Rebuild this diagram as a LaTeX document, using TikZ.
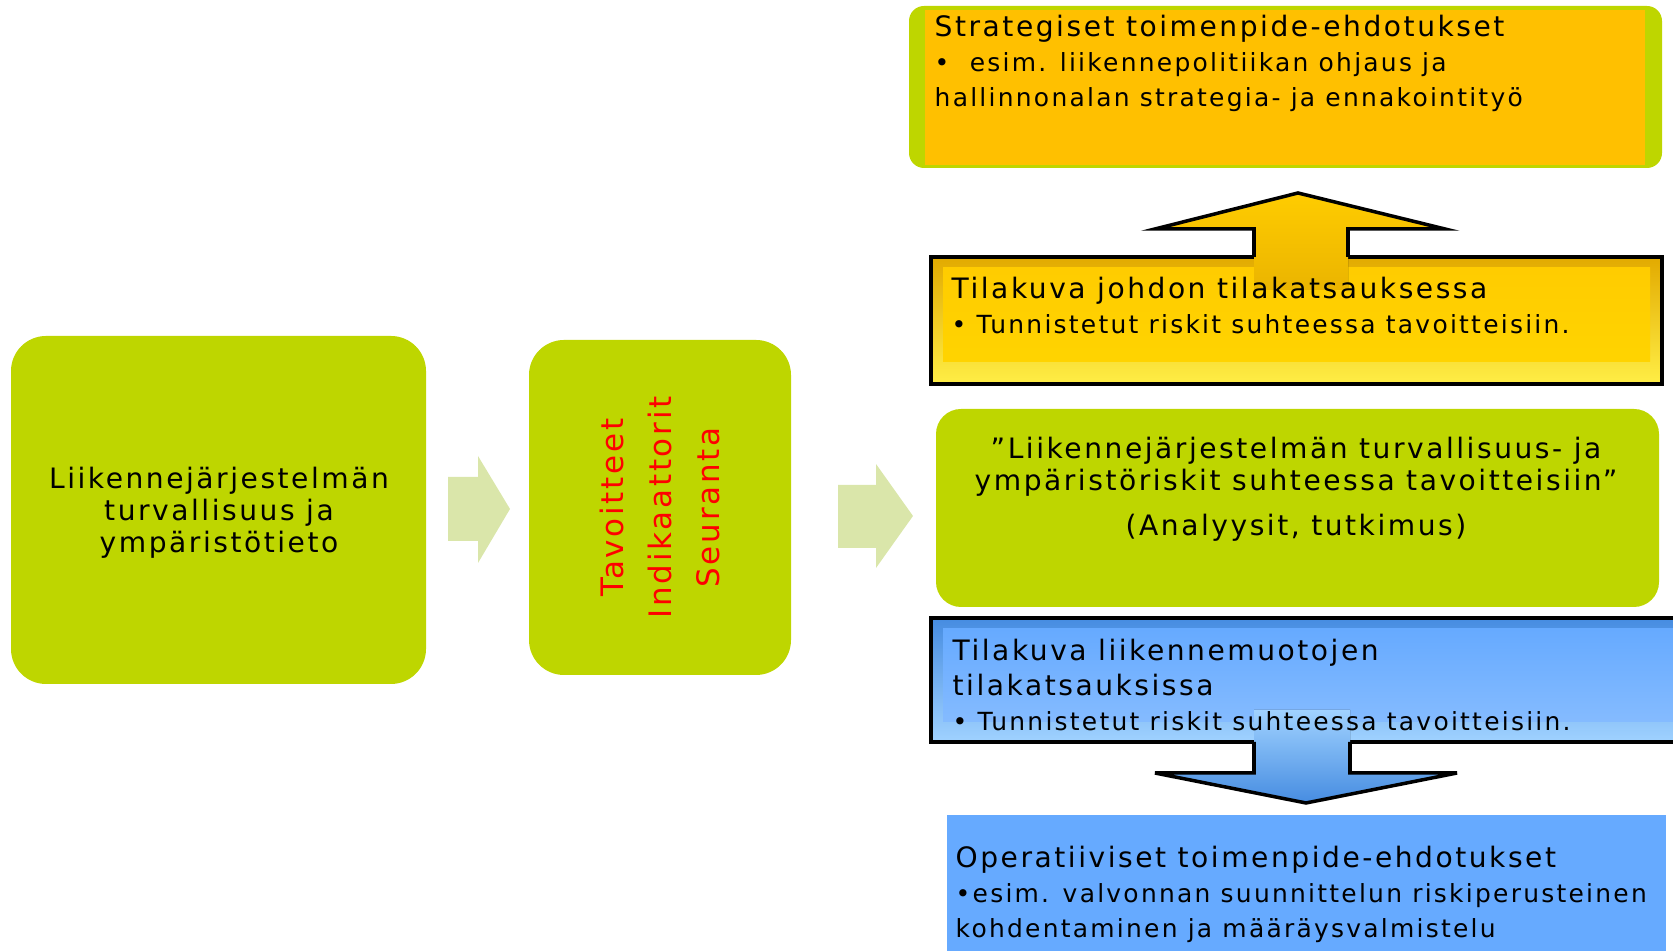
\documentclass[tikz,border=0pt]{standalone}
\usepackage{fontspec}
\setmainfont[LetterSpace=9]{DejaVu Sans}
\usetikzlibrary{positioning}

\definecolor{riskgreen}{RGB}{190,214,0}
\definecolor{palegreen}{RGB}{218,230,170}
\definecolor{strategyorange}{RGB}{255,192,0}
\definecolor{gold}{RGB}{255,204,0}
\definecolor{golddark}{RGB}{226,170,0}
\definecolor{goldlight}{RGB}{255,238,70}
\definecolor{skyblue}{RGB}{102,170,255}
\definecolor{bluedark}{RGB}{70,140,225}
\definecolor{bluelight}{RGB}{160,210,255}

\newcommand{\bulletsize}{\fontsize{7.1}{10}\selectfont}

\tikzset{
  greenbox/.style={fill=riskgreen, inner sep=0pt, rounded corners=0.35cm},
  boxtext/.style={anchor=north west, align=left, inner sep=0pt,
    font=\fontsize{8}{10}\selectfont},
  blockline/.style={draw=black, line width=1pt, line join=miter},
}

\begin{document}
\begin{tikzpicture}
	\useasboundingbox (0,0) rectangle (16.73,-9.51);
	
	% left
	\node[greenbox, minimum width=4.15cm, minimum height=3.48cm] (tieto) at (2.185,-5.10) {};
	\node[align=center, inner sep=0pt, font=\fontsize{8}{9.1}\selectfont] (tietoteksti)
	  at (2.19,-5.13) {Liikennejärjestelmän\\turvallisuus ja\\ympäristötieto};
	\fill[palegreen] (4.48,-4.77) -- (4.78,-4.77) -- (4.78,-4.56) -- (5.10,-5.09)
	  -- (4.78,-5.63) -- (4.78,-5.41) -- (4.48,-5.41) -- cycle;
	
	\node[greenbox, rotate=90, minimum width=3.35cm, minimum height=2.62cm,
	  text=red, align=center, font=\fontsize{8.8}{13.7}\selectfont] (seuranta)
	  at (6.60,-5.075) {Tavoitteet\\Indikaattorit\\Seuranta};
	\fill[palegreen] (8.38,-4.85) -- (8.76,-4.85) -- (8.76,-4.64) -- (9.13,-5.16)
	  -- (8.76,-5.68) -- (8.76,-5.48) -- (8.38,-5.48) -- cycle;
	
	% analysis
	\node[greenbox, rounded corners=0.25cm, minimum width=7.23cm, minimum height=1.98cm]
	  (analyysi) at (12.975,-5.08) {};
	\node[align=center, anchor=north, inner sep=0pt, font=\fontsize{8}{9.2}\selectfont]
	  (analyysiteksti) at (12.96,-4.36)
	  {”Liikennejärjestelmän turvallisuus- ja\\ympäristöriskit suhteessa tavoitteisiin”\\[3.5pt](Analyysit, tutkimus)};
	
	% strategic
	\fill[riskgreen, rounded corners=0.15cm] (9.09,-0.06) rectangle (16.62,-1.68);
	\fill[strategyorange] (9.25,-0.10) rectangle (16.45,-1.65);
	\node[boxtext] (strategia) at (9.34,-0.14)
	  {Strategiset toimenpide-ehdotukset\\\bulletsize\textbullet\ \ esim. liikennepolitiikan ohjaus ja\\\bulletsize hallinnonalan strategia- ja ennakointityö};
	
	% management review
	\fill[top color=golddark, bottom color=goldlight] (9.31,-2.57) rectangle (16.62,-3.84);
	\fill[top color=gold, bottom color=gold!85!yellow] (9.43,-2.68) rectangle (16.50,-3.62);
	\draw[blockline] (9.31,-2.57) rectangle (16.62,-3.84);
	\fill[top color=gold, bottom color=golddark!70!gold] (12.54,-2.90) -- (12.54,-2.29) -- (11.55,-2.29)
	  -- (12.98,-1.93) -- (14.45,-2.29) -- (13.48,-2.29) -- (13.48,-2.90) -- cycle;
	\draw[blockline] (12.54,-2.57) -- (12.54,-2.29) -- (11.55,-2.29) -- (12.98,-1.93)
	  -- (14.45,-2.29) -- (13.48,-2.29) -- (13.48,-2.57);
	\node[boxtext] (johto) at (9.51,-2.76)
	  {Tilakuva johdon tilakatsauksessa\\\bulletsize\textbullet\ Tunnistetut riskit suhteessa tavoitteisiin.};
	
	% transport modes
	\fill[top color=bluedark, bottom color=bluelight] (9.31,-6.18) rectangle (16.80,-7.42);
	\fill[top color=skyblue, bottom color=skyblue!80!white] (9.43,-6.29) rectangle (16.80,-7.22);
	\draw[blockline] (16.80,-6.18) -- (9.31,-6.18) -- (9.31,-7.42) -- (16.80,-7.42);
	\fill[top color=bluelight, bottom color=bluedark] (12.54,-7.10) -- (12.54,-7.73) -- (11.55,-7.73)
	  -- (13.06,-8.03) -- (14.57,-7.73) -- (13.50,-7.73) -- (13.50,-7.10) -- cycle;
	\draw[blockline] (12.54,-7.42) -- (12.54,-7.73) -- (11.55,-7.73) -- (13.06,-8.03)
	  -- (14.57,-7.73) -- (13.50,-7.73) -- (13.50,-7.42);
	\node[boxtext] (liikennemuodot) at (9.52,-6.38)
	  {Tilakuva liikennemuotojen\\tilakatsauksissa\\\bulletsize\textbullet\ Tunnistetut riskit suhteessa tavoitteisiin.};
	
	% operative
	\fill[skyblue] (9.47,-8.15) rectangle (16.66,-9.60);
	\node[boxtext] (operatiivinen) at (9.55,-8.45)
	  {Operatiiviset toimenpide-ehdotukset\\\bulletsize\textbullet esim. valvonnan suunnittelun riskiperusteinen\\\bulletsize kohdentaminen ja määräysvalmistelu};
	
\end{tikzpicture}
\end{document}
